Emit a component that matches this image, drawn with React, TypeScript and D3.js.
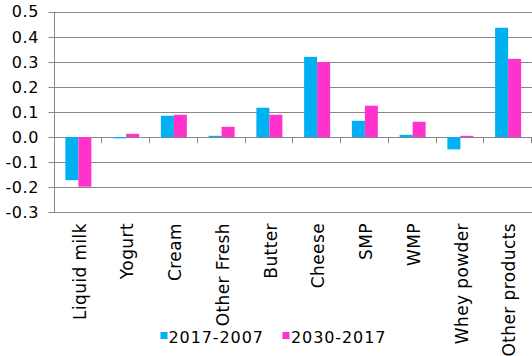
import React from "react";
import * as d3 from "d3";

const categories = ["Liquid milk", "Yogurt", "Cream", "Other Fresh", "Butter", "Cheese", "SMP", "WMP", "Whey powder", "Other products"];
const series1Name = "2017-2007";
const series2Name = "2030-2017";
const series1 = [-0.172, -0.005, 0.085, 0.005, 0.117, 0.32, 0.065, 0.009, -0.049, 0.436];
const series2 = [-0.198, 0.013, 0.089, 0.041, 0.089, 0.299, 0.125, 0.061, 0.005, 0.312];
const yTicks = [-0.3, -0.2, -0.1, 0, 0.1, 0.2, 0.3, 0.4, 0.5];

const W = 532, H = 356;
const left = 54.5, right = 532, top = 11.7, bottom = 212.3;
const BLUE = "#00B0F0", PINK = "#FF33CC", GRID = "#878787";
const FONT = "'DejaVu Sans', Verdana, sans-serif";

export default function App() {
  const x = d3.scaleBand<string>().domain(categories).range([left, right]);
  const y = d3.scaleLinear().domain([-0.3, 0.5]).range([bottom, top]);
  const bw = 13;
  const y0 = y(0);
  return (
    <svg width={W} height={H} style={{ position: "absolute", left: 0, top: 0, background: "#fff" }} fontFamily={FONT}>
      {yTicks.map((t) => (
        <g key={t}>
          <line x1={left - 6} x2={right} y1={Math.round(y(t)) + 0.5} y2={Math.round(y(t)) + 0.5} stroke={GRID} strokeWidth={1} />
          <text x={39} y={y(t)} dy="0.36em" textAnchor="end" fontSize={16} letterSpacing={0.6} fill="#000">{t.toFixed(1)}</text>
        </g>
      ))}
      <line x1={Math.round(left) - 0.5} x2={Math.round(left) - 0.5} y1={y(0.5)} y2={y(-0.3) + 0.5} stroke={GRID} />
      {categories.map((c, i) => (
        <line key={"t" + i} x1={Math.round(x(c)! + x.bandwidth()) - 0.5} x2={Math.round(x(c)! + x.bandwidth()) - 0.5} y1={y0} y2={y0 + 6} stroke={GRID} />
      ))}
      {categories.map((c, i) => {
        const cx = x(c)! + x.bandwidth() / 2;
        const v1 = series1[i], v2 = series2[i];
        return (
          <g key={c}>
            <rect x={cx - bw} width={bw} y={Math.min(y(v1), y0)} height={Math.abs(y(v1) - y0)} fill={BLUE} />
            <rect x={cx} width={bw} y={Math.min(y(v2), y0)} height={Math.abs(y(v2) - y0)} fill={PINK} />
            <text transform={`translate(${cx + 1},223) rotate(-90)`} dy="0.36em" textAnchor="end" fontSize={17} letterSpacing={0.4} fill="#000">{c}</text>
          </g>
        );
      })}
      <rect x={160.5} y={332} width={7} height={7} fill={BLUE} />
      <text x={168.5} y={343} fontSize={16} letterSpacing={0.9} fill="#000">{series1Name}</text>
      <rect x={282.5} y={332} width={7} height={7} fill={PINK} />
      <text x={291} y={343} fontSize={16} letterSpacing={0.9} fill="#000">{series2Name}</text>
    </svg>
  );
}
